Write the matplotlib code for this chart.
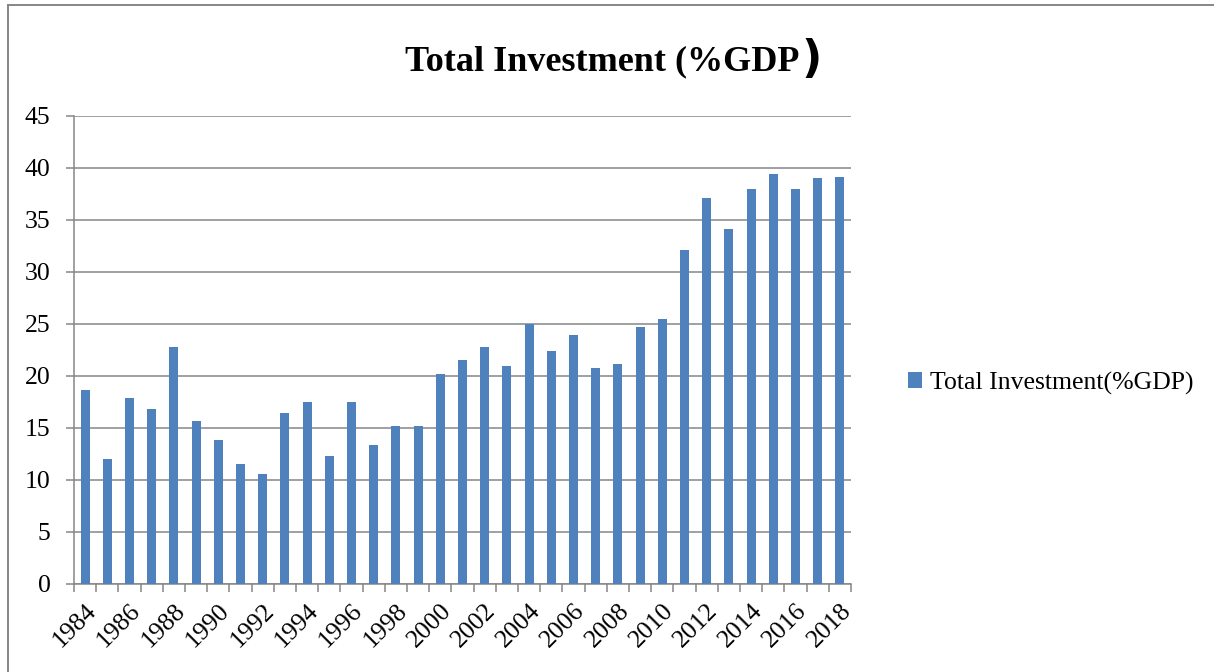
import matplotlib
matplotlib.use("Agg")
import matplotlib.pyplot as plt
from matplotlib.lines import Line2D
import numpy as np

plt.rcParams['font.family'] = ['Liberation Serif', 'DejaVu Serif']

years = list(range(1984, 2019))
investment = [18.7, 12.0, 17.9, 16.8, 22.8, 15.7, 13.8, 11.5, 10.6, 16.4,
              17.5, 12.3, 17.5, 13.4, 15.2, 15.2, 20.2, 21.5, 22.8, 21.0,
              25.0, 22.4, 23.9, 20.8, 21.2, 24.7, 25.5, 32.1, 37.1, 34.1,
              38.0, 39.4, 38.0, 39.0, 39.1]
series_name = "Total Investment(%GDP)"
bar_color = "#4F81BD"
grid_color = "#868686"

W, H = 1214, 672
fig = plt.figure(figsize=(W / 100, H / 100), dpi=100)
ax = fig.add_axes([74 / W, 1 - 584 / H, (851 - 74) / W, (584 - 116) / H])

x = np.arange(len(years))
ax.bar(x, investment, width=0.41, color=bar_color, zorder=3, label=series_name)

ax.set_xlim(-0.5, len(years) - 0.5)
ax.set_ylim(0, 45)
ax.set_yticks(range(0, 46, 5))
ax.yaxis.grid(True, color=grid_color, linewidth=1.1, zorder=0)
ax.tick_params(axis='y', length=6, width=1.1, color=grid_color, pad=11,
               labelsize=18.5)

# boundary ticks between categories, labels every second year
ax.set_xticks(np.arange(len(years) + 1) - 0.5)
ax.set_xticklabels([])
ax.tick_params(axis='x', which='major', length=6, width=1.1, color=grid_color)
ax.set_xticks(x[::2], minor=True)
ax.set_xticklabels([str(y) for y in years[::2]], minor=True, rotation=45,
                   ha='right', va='top', rotation_mode='anchor')
ax.tick_params(axis='x', which='minor', length=0, pad=11, labelsize=18.5)

for side in ('top', 'right'):
    ax.spines[side].set_visible(False)
for side in ('left', 'bottom'):
    ax.spines[side].set_color(grid_color)
    ax.spines[side].set_linewidth(1.1)

# title with an oversized closing bracket
t = fig.text(405 / W, 1 - 70 / H, "Total Investment (%GDP", fontsize=26,
             fontweight='bold', ha='left', va='baseline')
fig.canvas.draw()
bb = t.get_window_extent(renderer=fig.canvas.get_renderer())
fig.text(bb.x1 / W + 2 / W, 1 - 72 / H, ")", fontsize=32, fontweight='bold',
         family='DejaVu Sans', ha='left', va='baseline')

fig.legend(loc='center left', bbox_to_anchor=(898 / W, 1 - 383 / H),
           frameon=False, fontsize=18.5, handlelength=0.55, handleheight=0.55,
           handletextpad=0.3, borderaxespad=0)

# chart frame
fig.add_artist(Line2D([8 / W, 8 / W], [0, 1 - 5 / H], color=grid_color,
                      linewidth=1.4, transform=fig.transFigure))
fig.add_artist(Line2D([8 / W, 1], [1 - 5 / H, 1 - 5 / H], color=grid_color,
                      linewidth=1.4, transform=fig.transFigure))

fig.savefig("out.png", dpi=100)
